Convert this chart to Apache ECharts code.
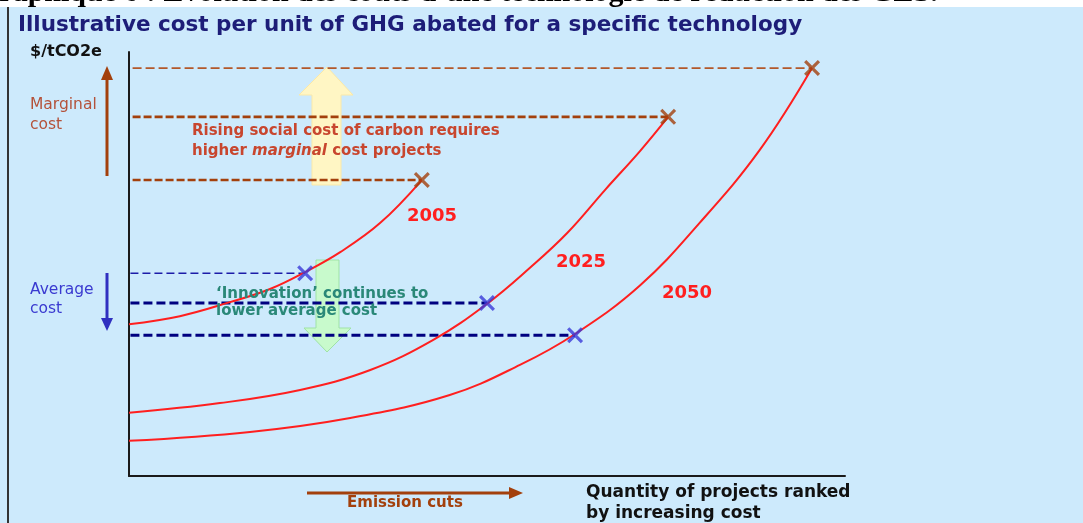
<!DOCTYPE html>
<html>
<head>
<meta charset="utf-8">
<script src="https://cdn.jsdelivr.net/npm/echarts@6/dist/echarts.min.js"></script>
<style>
  html, body { margin: 0; padding: 0; background: #fff; }
  #chart { width: 1083px; height: 523px; }
</style>
</head>
<body>
<div id="chart"></div>
<script>
// curves: [quantity, cost] in arbitrary axis units (0..100)
const curve2005 = [[0, 35.8], [7.1, 37.7], [14.1, 41.0], [19.7, 44.1], [24.6, 48.1], [29.5, 52.8], [35.1, 59.7], [40.9, 69.8]]
const curve2025 = [[0, 14.9], [12.7, 17.2], [23.9, 20.3], [33.7, 25.0], [42.5, 32.1], [50.0, 40.6], [56.0, 49.1], [61.2, 57.3], [66.5, 67.5], [71.4, 76.7], [75.3, 84.7]]
const curve2050 = [[0, 8.3], [16.9, 10.4], [30.9, 13.7], [44.8, 19.1], [54.6, 26.2], [62.3, 33.5], [71.4, 45.0], [79.7, 59.7], [88.1, 76.9], [95.4, 96.2]]

const marginalPts = [[40.9, 69.8], [75.3, 84.7], [95.4, 96.2]]
const averagePts  = [[24.6, 47.8], [50.0, 40.8], [62.3, 33.2]]
const yearLabels  = ['2005', '2025', '2050']

const RED = '#ff1f1f'
const BROWN = '#a3400c'
const NAVY = '#000080'
const SANS = 'DejaVu Sans'
const XMARK = 'path://M0,1.4 L1.4,0 L5,3.6 L8.6,0 L10,1.4 L6.4,5 L10,8.6 L8.6,10 L5,6.4 L1.4,10 L0,8.6 L3.6,5 Z'

const chart = echarts.init(document.getElementById('chart'))

const curveSeries = [curve2005, curve2025, curve2050].map((d, i) => ({
  type: 'line', name: yearLabels[i], data: d, smooth: 0.4,
  symbol: 'none', lineStyle: { color: RED, width: 2 }, z: 4, silent: true,
}))

// dashed guide lines from the y axis to each X
const marginalLines = marginalPts.map((p, i) => ({
  type: 'line', data: [[0.5, p[1]], p], symbol: 'none', silent: true, z: 3,
  lineStyle: i === 2 ? { color: '#b2582a', width: 1.6, type: [9, 4] } : { color: BROWN, width: 2.6, type: [8, 3] },
}))
const averageLines = averagePts.map((p, i) => ({
  type: 'line', data: [[0.2, p[1]], p], symbol: 'none', silent: true, z: 3,
  lineStyle: i === 0 ? { color: '#1c1ca8', width: 1.5, type: [8, 4] } : { color: NAVY, width: 3, type: [9, 4] },
}))

const txt = (x, y, text, style) => ({
  type: 'text', x, y, z: 50,
  style: Object.assign({ text, fontFamily: SANS, verticalAlign: 'middle' }, style),
})

chart.setOption({
  backgroundColor: '#cdeafc',
  animation: false,
  grid: { left: 129, top: 52, width: 716, height: 424 },
  xAxis: {
    type: 'value', min: 0, max: 100,
    axisLine: { lineStyle: { color: '#1a1a1a', width: 2 } },
    axisTick: { show: false }, axisLabel: { show: false }, splitLine: { show: false },
  },
  yAxis: {
    type: 'value', min: 0, max: 100,
    axisLine: { show: true, lineStyle: { color: '#1a1a1a', width: 2 } },
    axisTick: { show: false }, axisLabel: { show: false }, splitLine: { show: false },
  },
  series: [
    ...curveSeries,
    ...marginalLines,
    ...averageLines,
    { type: 'scatter', data: marginalPts, symbol: XMARK, symbolSize: 16, itemStyle: { color: BROWN }, z: 6, silent: true },
    { type: 'scatter', data: averagePts, symbol: XMARK, symbolSize: 16, itemStyle: { color: '#3a3ad8' }, z: 6, silent: true },
  ],
  graphic: [
    // white strip with the cut-off page caption
    { type: 'rect', shape: { x: 0, y: 0, width: 1083, height: 7 }, style: { fill: '#fff' }, z: 40 },
    { type: 'text', x: -24, y: -7, z: 41, style: { text: 'Graphique 6 : Evolution des coûts d\u2019une technologie de réduction des GES.', fontFamily: 'Liberation Serif', fontWeight: 'bold', fontSize: 30, fill: '#000', verticalAlign: 'middle' } },
    { type: 'rect', shape: { x: 0, y: 7, width: 1083, height: 7 }, style: { fill: '#cdeafc' }, z: 42 },
    { type: 'line', shape: { x1: 8, y1: 7, x2: 8, y2: 523 }, style: { stroke: '#333', lineWidth: 2 }, z: 43 },

    // yellow block arrow (up) and green block arrow (down)
    { type: 'polygon', z: 1, shape: { points: [[312, 185], [341, 185], [341, 95], [353, 95], [327, 67], [299, 95], [312, 95]] }, style: { fill: '#fff6c4', stroke: '#fbe9a8', lineWidth: 1 } },
    { type: 'polygon', z: 1, shape: { points: [[316, 260], [339, 260], [339, 328], [351, 328], [327, 352], [304, 328], [316, 328]] }, style: { fill: '#c8facc', stroke: '#9fe3a6', lineWidth: 1 } },

    // side arrows
    { type: 'line', shape: { x1: 107, y1: 176, x2: 107, y2: 80 }, style: { stroke: BROWN, lineWidth: 3 }, z: 20 },
    { type: 'polygon', shape: { points: [[101, 80], [113, 80], [107, 66]] }, style: { fill: BROWN }, z: 20 },
    { type: 'line', shape: { x1: 107, y1: 273, x2: 107, y2: 318 }, style: { stroke: '#3030c0', lineWidth: 3 }, z: 20 },
    { type: 'polygon', shape: { points: [[101, 318], [113, 318], [107, 331]] }, style: { fill: '#3030c0' }, z: 20 },
    { type: 'line', shape: { x1: 307, y1: 493, x2: 510, y2: 493 }, style: { stroke: BROWN, lineWidth: 3 }, z: 20 },
    { type: 'polygon', shape: { points: [[509, 487], [509, 499], [523, 493]] }, style: { fill: BROWN }, z: 20 },

    // texts
    txt(18, 25, 'Illustrative cost per unit of GHG abated for a specific technology', { fontSize: 21.5, fontWeight: 'bold', fill: '#1d1d78' }),
    txt(30, 52, '$/tCO2e', { fontSize: 16, fontWeight: 'bold', fill: '#111' }),
    txt(30, 105, 'Marginal', { fontSize: 15.5, fill: '#b4523a' }),
    txt(30, 125, 'cost', { fontSize: 15.5, fill: '#b4523a' }),
    txt(30, 290, 'Average', { fontSize: 15.5, fill: '#3a3ad0' }),
    txt(30, 309, 'cost', { fontSize: 15.5, fill: '#3a3ad0' }),
    txt(192, 131, 'Rising social cost of carbon requires', { fontSize: 15, fontWeight: 'bold', fill: '#c8462e' }),
    {
      type: 'text', x: 192, y: 151, z: 50,
      style: {
        text: '{n|higher }{i|marginal}{n| cost projects}', verticalAlign: 'middle',
        rich: {
          n: { fontFamily: SANS, fontSize: 15, fontWeight: 'bold', fill: '#c8462e' },
          i: { fontFamily: SANS, fontSize: 15, fontWeight: 'bold', fontStyle: 'italic', fill: '#c8462e' },
        },
      },
    },
    txt(216, 294, '\u2018Innovation\u2019 continues to', { fontSize: 15, fontWeight: 'bold', fill: '#2a8878' }),
    txt(216, 311, 'lower average cost', { fontSize: 15, fontWeight: 'bold', fill: '#2a8878' }),
    txt(407, 216, yearLabels[0], { fontSize: 18, fontWeight: 'bold', fill: RED }),
    txt(556, 262, yearLabels[1], { fontSize: 18, fontWeight: 'bold', fill: RED }),
    txt(662, 293, yearLabels[2], { fontSize: 18, fontWeight: 'bold', fill: RED }),
    txt(347, 503, 'Emission cuts', { fontSize: 15, fontWeight: 'bold', fill: BROWN }),
    txt(586, 493, 'Quantity of projects ranked', { fontSize: 17, fontWeight: 'bold', fill: '#111' }),
    txt(586, 514, 'by increasing cost', { fontSize: 17, fontWeight: 'bold', fill: '#111' }),
  ],
})
</script>
</body>
</html>
